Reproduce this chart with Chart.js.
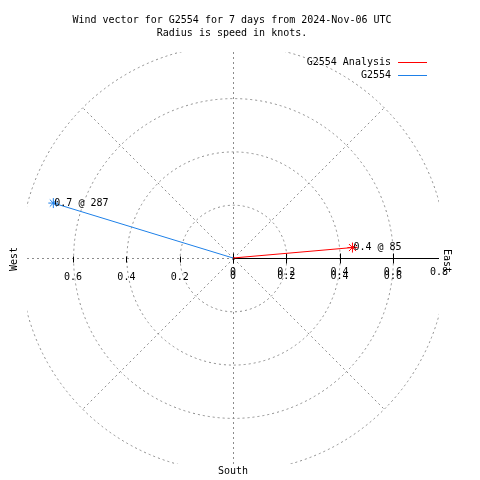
<!DOCTYPE html>
<html>
<head>
<meta charset="utf-8">
<script src="https://cdn.jsdelivr.net/npm/chart.js@4"></script>
<style>
  html, body { margin: 0; padding: 0; background: #fff; }
</style>
</head>
<body>
<canvas id="windChart" width="480" height="480"></canvas>
<script>
const titleLines = ['Wind vector for G2554 for 7 days from 2024-Nov-06 UTC', 'Radius is speed in knots.'];
const seriesNames = ['G2554 Analysis', 'G2554'];
const seriesColors = ['#ff0000', '#1e80e8'];
const speeds = [0.45, 0.705];
const directions = [85, 287];
const vectorLabels = ['0.4 @ 85', '0.7 @ 287'];
const ringValues = [0.2, 0.4, 0.6, 0.8];
const rightTicks = [0, 0.2, 0.4, 0.6, 0.8];
const rightTickLabels = ['0', '0.2', '0.4', '0.6', '0.8'];
const leftTicks = [-0.2, -0.4, -0.6];
const leftTickLabels = ['0.2', '0.4', '0.6'];
const axisMax = 0.773;

const FONT = '10px "DejaVu Sans Mono"';

// speed + compass direction -> east/north components
function vec(i) {
  const rad = directions[i] * Math.PI / 180;
  return [{x: 0, y: 0}, {x: speeds[i] * Math.sin(rad), y: speeds[i] * Math.cos(rad)}];
}

const polarGrid = {
  id: 'polarGrid',
  beforeDatasetsDraw(chart) {
    const {ctx, chartArea: a, scales: {x, y}} = chart;
    const cx = Math.round(x.getPixelForValue(0)) + 0.5;
    const cy = Math.round(y.getPixelForValue(0)) + 0.5;
    const px = x.getPixelForValue(1) - x.getPixelForValue(0);
    ctx.save();
    ctx.beginPath();
    ctx.rect(a.left, a.top, a.right - a.left, a.bottom - a.top);
    ctx.clip();
    ctx.strokeStyle = '#8c8c8c';
    ctx.lineWidth = 1;
    ctx.setLineDash([2, 3]);
    ringValues.forEach(r => {
      ctx.beginPath();
      ctx.arc(cx, cy, r * px, 0, Math.PI * 2);
      ctx.stroke();
    });
    ctx.beginPath();
    ctx.moveTo(cx, a.top); ctx.lineTo(cx, a.bottom);
    ctx.moveTo(a.left, cy); ctx.lineTo(cx, cy);
    const outer = ringValues[ringValues.length - 1] * px;
    [45, 135, 225, 315].forEach(d => {
      const t = d * Math.PI / 180;
      ctx.moveTo(cx, cy);
      ctx.lineTo(cx + outer * Math.sin(t), cy - outer * Math.cos(t));
    });
    ctx.stroke();
    ctx.restore();

    // solid east axis with ticks
    ctx.save();
    ctx.strokeStyle = '#000';
    ctx.lineWidth = 1;
    ctx.beginPath();
    ctx.moveTo(cx, cy); ctx.lineTo(a.right, cy);
    rightTicks.slice(0, 4).forEach(v => {
      const tx = Math.round(x.getPixelForValue(v)) + 0.5;
      ctx.moveTo(tx, cy - 5); ctx.lineTo(tx, cy + 5);
    });
    leftTicks.forEach(v => {
      const tx = Math.round(x.getPixelForValue(v)) + 0.5;
      ctx.moveTo(tx, cy - 2); ctx.lineTo(tx, cy + 4);
    });
    ctx.stroke();
    ctx.restore();
  },
  afterDraw(chart) {
    const {ctx, scales: {x, y}} = chart;
    const cx = x.getPixelForValue(0), cy = y.getPixelForValue(0);
    ctx.save();
    ctx.font = FONT;
    ctx.fillStyle = '#000';
    ctx.textBaseline = 'middle';
    ctx.textAlign = 'center';
    ctx.fillText(titleLines[0], 232, 20);
    ctx.fillText(titleLines[1], 232, 33);

    // tick labels (east side is printed twice, slightly offset, like the original)
    rightTicks.forEach((v, i) => {
      const tx = x.getPixelForValue(Math.min(v, axisMax));
      ctx.fillText(rightTickLabels[i], tx, cy + 14);
      if (i < 4) ctx.fillText(rightTickLabels[i], tx, cy + 18);
    });
    leftTicks.forEach((v, i) => {
      ctx.fillText(leftTickLabels[i], x.getPixelForValue(v), cy + 19);
    });

    ctx.fillText('South', cx, 471);
    ctx.save();
    ctx.translate(14, cy + 1);
    ctx.rotate(-Math.PI / 2);
    ctx.fillText('West', 0, 0);
    ctx.restore();
    ctx.save();
    ctx.translate(447, cy + 3);
    ctx.rotate(Math.PI / 2);
    ctx.fillText('East', 0, 0);
    ctx.restore();

    // vector labels
    ctx.textAlign = 'left';
    chart.data.datasets.forEach((ds, i) => {
      const p = ds.data[1];
      ctx.fillText(vectorLabels[i], x.getPixelForValue(p.x) + 1, y.getPixelForValue(p.y));
    });

    // legend
    seriesNames.forEach((name, i) => {
      const ly = 62.5 + i * 13;
      ctx.textAlign = 'right';
      ctx.fillStyle = '#000';
      ctx.fillText(name, 391, ly);
      ctx.strokeStyle = seriesColors[i];
      ctx.lineWidth = 1;
      ctx.beginPath();
      ctx.moveTo(398, Math.round(ly) - 0.5);
      ctx.lineTo(427, Math.round(ly) - 0.5);
      ctx.stroke();
    });
    ctx.restore();
  }
};

new Chart(document.getElementById('windChart'), {
  type: 'scatter',
  data: {
    datasets: seriesNames.map((name, i) => ({
      label: name,
      data: vec(i),
      showLine: true,
      borderColor: seriesColors[i],
      backgroundColor: seriesColors[i],
      borderWidth: 1,
      pointStyle: 'star',
      pointRadius: [0, 5],
      pointBorderWidth: 1,
      pointBorderColor: seriesColors[i]
    }))
  },
  options: {
    responsive: false,
    animation: false,
    devicePixelRatio: 1,
    layout: { padding: { left: 27, right: 41, top: 52, bottom: 16 } },
    scales: {
      x: { type: 'linear', min: -axisMax, max: axisMax, display: false },
      y: { type: 'linear', min: -axisMax, max: axisMax, display: false }
    },
    plugins: {
      legend: { display: false },
      title: { display: false },
      tooltip: { enabled: false }
    }
  },
  plugins: [polarGrid]
});
</script>
</body>
</html>
